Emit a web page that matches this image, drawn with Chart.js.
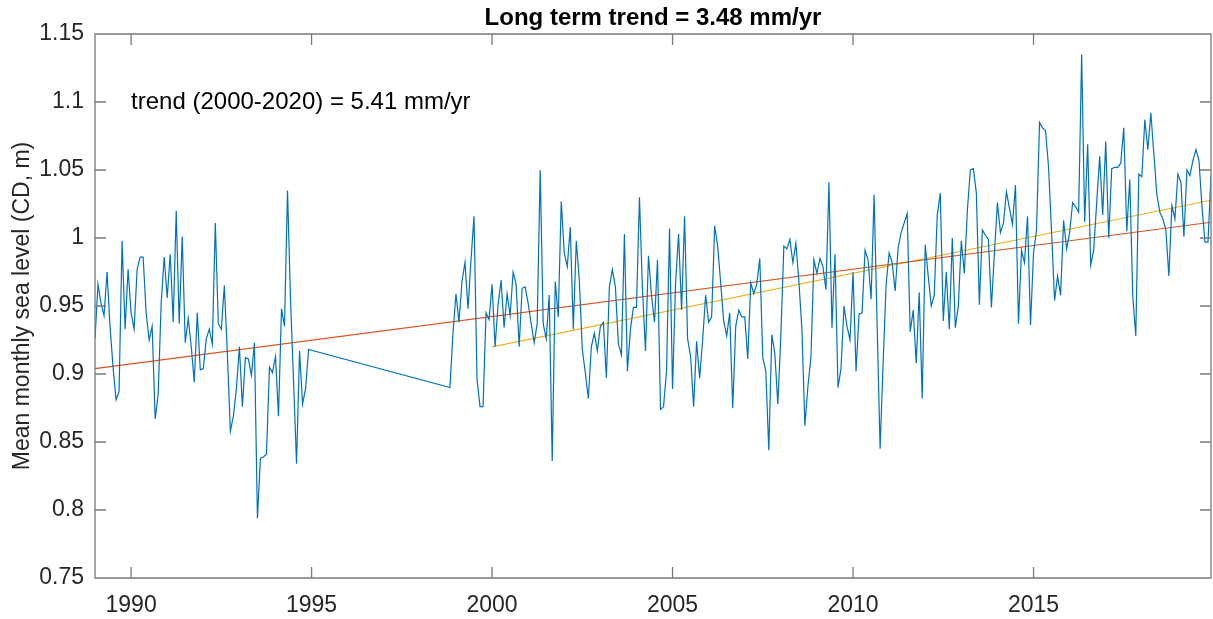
<!DOCTYPE html>
<html>
<head>
<meta charset="utf-8">
<title>Mean monthly sea level</title>
<script src="https://cdn.jsdelivr.net/npm/chart.js@4.4.1/dist/chart.umd.min.js"></script>
<style>
  html, body { margin: 0; padding: 0; background: #fff; }
  canvas { display: block; }
</style>
</head>
<body>
<canvas id="sealevel" width="1213" height="619"></canvas>
<script>
// monthly mean sea level (CD, m), Jan 1989 - Dec 1994
const start1 = 1989;
const level1 = [
  0.926, 0.966, 0.952, 0.943, 0.975, 0.935, 0.905, 0.881, 0.887, 0.998, 0.933, 0.977,
  0.945, 0.933, 0.977, 0.986, 0.986, 0.945, 0.925, 0.935, 0.867, 0.885, 0.952, 0.986,
  0.956, 0.988, 0.938, 1.020, 0.937, 1.001, 0.923, 0.941, 0.920, 0.894, 0.945, 0.903,
  0.904, 0.926, 0.933, 0.922, 1.011, 0.937, 0.933, 0.965, 0.915, 0.858, 0.869, 0.889,
  0.920, 0.876, 0.912, 0.911, 0.899, 0.923, 0.794, 0.838, 0.839, 0.841, 0.905, 0.901,
  0.913, 0.869, 0.948, 0.935, 1.035, 0.955, 0.895, 0.834, 0.917, 0.878, 0.889, 0.918
];

// gauge back from Nov 1998 to Dec 2019
const start2 = 1998 + 10 / 12;
const level2 = [
                                                                       0.890, 0.930,
  0.959, 0.938, 0.968, 0.982, 0.948, 0.984, 1.016, 0.896, 0.876, 0.876, 0.945, 0.940,
  0.966, 0.920, 0.951, 0.969, 0.934, 0.959, 0.943, 0.975, 0.966, 0.920, 0.963, 0.964,
  0.952, 0.937, 0.923, 0.937, 1.050, 0.937, 0.926, 0.958, 0.836, 0.968, 0.942, 1.027,
  0.989, 0.979, 1.008, 0.933, 0.998, 0.969, 0.918, 0.901, 0.882, 0.920, 0.930, 0.917,
  0.935, 0.938, 0.897, 0.964, 0.977, 0.964, 0.922, 0.914, 1.003, 0.902, 0.933, 0.949,
  0.949, 1.030, 0.962, 0.917, 0.987, 0.958, 0.938, 0.984, 0.874, 0.876, 0.902, 1.007,
  0.889, 0.967, 1.003, 0.947, 1.016, 0.926, 0.913, 0.876, 0.924, 0.897, 0.925, 0.958,
  0.938, 0.942, 1.009, 0.994, 0.967, 0.939, 0.928, 0.945, 0.875, 0.935, 0.947, 0.942,
  0.942, 0.911, 0.967, 0.959, 0.966, 0.985, 0.912, 0.902, 0.844, 0.929, 0.915, 0.878,
  0.928, 0.994, 0.992, 0.999, 0.982, 0.996, 0.968, 0.933, 0.862, 0.891, 0.912, 0.984,
  0.974, 0.985, 0.979, 0.962, 1.041, 0.934, 0.988, 0.890, 0.904, 0.950, 0.935, 0.925,
  0.975, 0.902, 0.944, 0.945, 0.991, 0.984, 0.955, 1.032, 0.937, 0.845, 0.908, 0.966,
  0.989, 0.982, 0.961, 0.993, 1.004, 1.011, 1.018, 0.931, 0.947, 0.908, 0.960, 0.882,
  0.995, 0.972, 0.950, 0.958, 1.017, 1.033, 0.939, 0.975, 0.933, 1.000, 0.934, 0.950,
  0.998, 0.974, 1.020, 1.050, 1.051, 1.033, 0.951, 1.006, 1.002, 0.999, 0.949, 0.989,
  1.026, 1.004, 1.011, 1.034, 1.022, 1.010, 1.039, 0.937, 0.991, 0.982, 1.016, 0.936,
  0.989, 1.006, 1.085, 1.081, 1.079, 1.052, 1.004, 0.954, 0.972, 0.958, 1.013, 0.992,
  1.004, 1.026, 1.023, 1.019, 1.135, 1.012, 1.069, 0.980, 0.991, 1.026, 1.060, 1.017,
  1.071, 1.000, 1.051, 1.052, 1.052, 1.055, 1.081, 1.005, 1.043, 0.957, 0.928, 1.047,
  1.045, 1.087, 1.065, 1.092, 1.062, 1.032, 1.019, 1.014, 1.006, 0.972, 1.024, 1.014,
  1.047, 1.041, 1.001, 1.050, 1.046, 1.057, 1.065, 1.057, 1.023, 0.997, 0.997, 1.046
];

const xTicks = [1990, 1995, 2000, 2005, 2010, 2015];
const yTicks = [0.75, 0.8, 0.85, 0.9, 0.95, 1, 1.05, 1.1, 1.15];

// linear fits, slopes in mm/yr
const longTrend = 3.48;
const longTrendFrom = 1989;
const longTrendStartLevel = 0.904;
const recentTrend = 5.41;
const recentTrendFrom = 2000;
const recentTrendStartLevel = 0.920;

const titleText = 'Long term trend = ' + longTrend.toFixed(2) + ' mm/yr';
const noteText = 'trend (2000-2020) = ' + recentTrend.toFixed(2) + ' mm/yr';
const notePos = [1990, 1.1];

const FONT = "'Liberation Sans', Arial, Helvetica, sans-serif";
const INK = '#262626';

const monthly = level1.map((v, i) => ({ x: start1 + i / 12, y: v }))
  .concat(level2.map((v, i) => ({ x: start2 + i / 12, y: v })));
const lastX = monthly[monthly.length - 1].x;

function trendLine(from, level, slope) {
  return [from, lastX].map(x => ({ x: x, y: level + slope / 1000 * (x - from) }));
}

// box round the axes with inward ticks on all four sides
const boxAxes = {
  id: 'boxAxes',
  afterDatasetsDraw(chart) {
    const { ctx, chartArea: a, scales: { x, y } } = chart;
    const len = 11;
    ctx.save();
    ctx.strokeStyle = '#7a7a7a';
    ctx.lineWidth = 1.3;
    ctx.beginPath();
    ctx.rect(a.left, a.top, a.right - a.left, a.bottom - a.top);
    xTicks.forEach(t => {
      const px = x.getPixelForValue(t);
      ctx.moveTo(px, a.bottom); ctx.lineTo(px, a.bottom - len);
      ctx.moveTo(px, a.top); ctx.lineTo(px, a.top + len);
    });
    yTicks.forEach(t => {
      const py = y.getPixelForValue(t);
      ctx.moveTo(a.left, py); ctx.lineTo(a.left + len, py);
      ctx.moveTo(a.right, py); ctx.lineTo(a.right - len, py);
    });
    ctx.stroke();

    ctx.fillStyle = '#000';
    ctx.font = '24px ' + FONT;
    ctx.textAlign = 'left';
    ctx.textBaseline = 'middle';
    ctx.fillText(noteText, x.getPixelForValue(notePos[0]), y.getPixelForValue(notePos[1]));
    ctx.restore();
  }
};

new Chart(document.getElementById('sealevel'), {
  type: 'line',
  data: {
    datasets: [
      { data: monthly, borderColor: '#0072BD', borderWidth: 1.2 },
      { data: trendLine(longTrendFrom, longTrendStartLevel, longTrend), borderColor: '#D95319', borderWidth: 1.2 },
      { data: trendLine(recentTrendFrom, recentTrendStartLevel, recentTrend), borderColor: '#EDB120', borderWidth: 1.2 }
    ]
  },
  options: {
    responsive: false,
    animation: false,
    devicePixelRatio: 1,
    elements: { point: { radius: 0 }, line: { tension: 0 } },
    layout: { padding: { top: 0, right: 2, left: 0, bottom: 0 } },
    plugins: {
      legend: { display: false },
      tooltip: { enabled: false },
      title: {
        display: true,
        text: titleText,
        fullSize: false,
        color: '#000',
        font: { family: FONT, size: 24, weight: 'bold', lineHeight: 1.2 },
        padding: { top: 4, bottom: 1.2 }
      }
    },
    scales: {
      x: {
        type: 'linear',
        min: start1,
        max: lastX,
        grid: { display: false, drawTicks: false },
        border: { display: false },
        afterBuildTicks: s => { s.ticks = xTicks.map(v => ({ value: v })); },
        afterFit: s => { s.height = 41; },
        ticks: {
          padding: 14,
          color: INK,
          font: { family: FONT, size: 23 },
          maxRotation: 0,
          callback: v => String(v)
        }
      },
      y: {
        type: 'linear',
        min: 0.75,
        max: 1.15,
        grid: { display: false, drawTicks: false },
        border: { display: false },
        afterBuildTicks: s => { s.ticks = yTicks.map(v => ({ value: v })); },
        afterFit: s => { s.width = 95; },
        ticks: {
          padding: 11,
          color: INK,
          font: { family: FONT, size: 23 },
          callback: v => String(+v.toFixed(2))
        },
        title: {
          display: true,
          text: 'Mean monthly sea level (CD, m)',
          color: INK,
          font: { family: FONT, size: 23 },
          padding: { top: 9, bottom: 0 }
        }
      }
    }
  },
  plugins: [boxAxes]
});
</script>
</body>
</html>
